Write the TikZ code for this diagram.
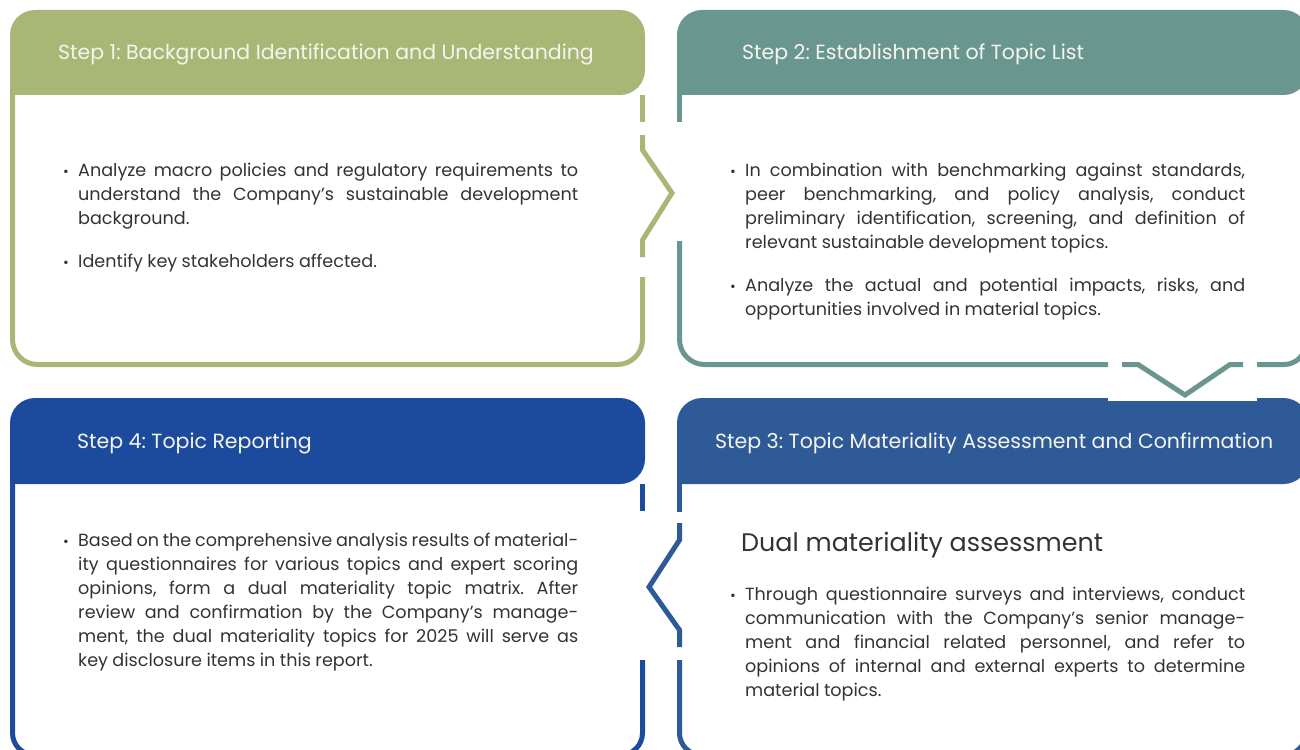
\documentclass[tikz,border=0pt]{standalone}
\usepackage{fontspec}
\setmainfont{Poppins}
\definecolor{stepA}{HTML}{A8B776}
\definecolor{stepB}{HTML}{6A9690}
\definecolor{stepC}{HTML}{2E5B97}
\definecolor{stepD}{HTML}{1C4B9E}
\definecolor{bodygray}{HTML}{333333}
\definecolor{headwhite}{HTML}{F5F5EE}
\tolerance=10000
\hyphenpenalty=10000
\frenchspacing
\newcommand\bdot{\makebox[15pt][l]{\fontsize{14}{14}\selectfont •}}
\newcommand\bpar{\par\spaceskip=0.25em plus 0.6em minus 0.12em\relax
    \hangindent=15pt\hangafter=1\noindent\bdot}
\begin{document}
\begin{tikzpicture}[x=1pt,y=-1pt,
    hd/.style={text=headwhite,font=\fontsize{20.5}{24}\selectfont,anchor=west,inner sep=0pt},
    txt/.style={text=bodygray,font=\fontsize{17.6}{24}\selectfont,
      text width=515pt,align=justify,anchor=north west,inner sep=0pt},
    rim/.style={line width=5pt,line join=miter}]
    \useasboundingbox (0,0) rectangle (1300,749);

    % header bars
    \fill[stepA] (10,95) [rounded corners=25pt] -- (10,10) -- (645,10) -- (645,95) [sharp corners] -- cycle;
    \fill[stepB] (677,95) [rounded corners=25pt] -- (677,10) -- (1308.5,10) -- (1308.5,95) [sharp corners] -- cycle;
    \fill[stepC] (677,484) [rounded corners=25pt] -- (677,398) -- (1308.5,398) -- (1308.5,484) [sharp corners] -- cycle;
    \fill[stepD] (10,484) [rounded corners=25pt] -- (10,398) -- (645,398) -- (645,484) [sharp corners] -- cycle;
    \fill[white] (1108,396) rectangle (1257,400.5);

    % step 1 frame, chevron to the right
    \draw[rim,stepA] (642.5,95) -- (642.5,122);
    \draw[rim,stepA] (642.5,135) -- (642.5,150) -- (672,193) -- (642.5,240) -- (642.5,257);
    \draw[rim,stepA] (642.5,277) [rounded corners=25pt] -- (642.5,364.5) -- (12.5,364.5) -- (12.5,95);

    % step 2 frame, chevron down
    \draw[rim,stepB] (679.5,95) -- (679.5,122);
    \draw[rim,stepB] (679.5,241) [rounded corners=25pt] -- (679.5,364.5) -- (1108,364.5);
    \draw[rim,stepB] (1122,364.5) -- (1138,364.5) -- (1185,395) -- (1230,364.5) -- (1243,364.5);
    \draw[rim,stepB] (1257,364.5) [rounded corners=22pt] -- (1306,364.5) -- (1306,95);

    % step 3 frame, chevron to the left
    \draw[rim,stepC] (679.5,484) -- (679.5,512);
    \draw[rim,stepC] (679.5,523) -- (679.5,540) -- (649,587) -- (679.5,630) -- (679.5,647);
    \draw[rim,stepC] (679.5,660) [rounded corners=22pt] -- (679.5,755) -- (1306,755) -- (1306,484);

    % step 4 frame
    \draw[rim,stepD] (642.5,484) -- (642.5,511);
    \draw[rim,stepD] (642.5,660) [rounded corners=22pt] -- (642.5,755) -- (12.5,755) -- (12.5,484);

    % headings
    \node[hd] (h1) at (58,54) {Step 1: Background Identification and Understanding};
    \node[hd] (h2) at (742,54) {Step 2: Establishment of Topic List};
    \node[hd] (h3) at (715,443) {Step 3: Topic Materiality Assessment and Confirmation};
    \node[hd] (h4) at (77,443) {Step 4: Topic Reporting};

    % texts
    \node[txt] (t1) at (63,152) {\bpar Analyze macro policies and regulatory requirements to\linebreak
        understand the Company’s sustainable development\linebreak background.
        \par\vspace{19pt}\bpar Identify key stakeholders affected.\par};
    \node[txt] (t2) at (730,152) {\bpar In combination with benchmarking against standards,\linebreak
        peer benchmarking, and policy analysis, conduct\linebreak
        preliminary identification, screening, and definition of\linebreak
        relevant sustainable development topics.
        \par\vspace{19pt}\bpar Analyze the actual and potential impacts, risks, and\linebreak
        opportunities involved in material topics.\par};
    \node[text=bodygray,font=\fontsize{25.4}{30}\selectfont,anchor=west,inner sep=0pt] (d3) at (741,545) {Dual materiality assessment};
    \node[txt] (t3) at (730,576) {\bpar Through questionnaire surveys and interviews, conduct\linebreak
        communication with the Company’s senior manage-\linebreak
        ment and financial related personnel, and refer to\linebreak
        opinions of internal and external experts to determine\linebreak
        material topics.\par};
    \node[txt] (t4) at (63,522) {\bpar Based on the comprehensive analysis results of material-\linebreak
        ity questionnaires for various topics and expert scoring\linebreak
        opinions, form a dual materiality topic matrix. After\linebreak
        review and confirmation by the Company’s manage-\linebreak
        ment, the dual materiality topics for 2025 will serve as\linebreak
        key disclosure items in this report.\par};
\end{tikzpicture}
\end{document}
